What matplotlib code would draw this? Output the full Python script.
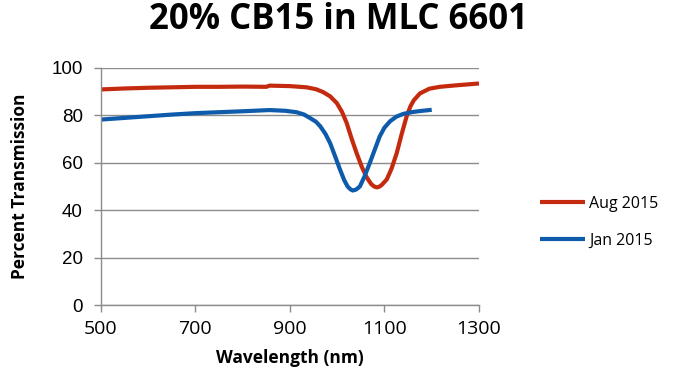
import matplotlib.pyplot as plt

# Transmission spectra
aug_wl = [500, 550, 600, 650, 700, 750, 800, 850, 857, 900, 935, 955, 970, 985, 999, 1010,
          1020, 1030, 1041, 1052, 1062, 1072, 1078, 1084, 1090, 1095, 1105, 1115, 1126, 1137,
          1147, 1155, 1162, 1175, 1195, 1217, 1250, 1275, 1300]
aug_t = [90.9, 91.3, 91.6, 91.8, 92.0, 92.0, 92.1, 92.0, 92.5, 92.3, 91.8, 91.0, 89.8, 88.0, 85.2, 81.5,
         76.8, 70.5, 64.1, 58.3, 54.0, 51.0, 50.0, 49.6, 50.0, 50.8, 53.0, 57.5, 64.1, 72.5,
         79.6, 83.8, 86.3, 89.2, 91.2, 92.0, 92.6, 93.0, 93.4]

jan_wl = [500, 550, 600, 650, 700, 750, 800, 857, 890, 914, 930, 942, 955, 964, 975, 985,
          996, 1006, 1015, 1022, 1028, 1033, 1040, 1048, 1058, 1069, 1080, 1090, 1100, 1112,
          1125, 1140, 1160, 1180, 1200]
jan_t = [78.2, 78.9, 79.6, 80.3, 80.9, 81.3, 81.7, 82.2, 81.9, 81.3, 80.3, 78.9, 77.3, 75.4, 72.2, 68.3,
         62.5, 57.1, 52.6, 50.0, 48.8, 48.3, 48.7, 50.0, 54.3, 59.9, 65.8, 71.1, 74.8, 77.5,
         79.4, 80.6, 81.4, 81.9, 82.3]

x_ticks = [500, 700, 900, 1100, 1300]
y_ticks = [0, 20, 40, 60, 80, 100]

plt.rcParams['font.family'] = ['Open Sans', 'DejaVu Sans']

fig = plt.figure(figsize=(6.77, 3.79), dpi=100)
ax = fig.add_axes([0.149, 0.195, 0.5585, 0.626])

ax.plot(aug_wl, aug_t, color='#C42A0E', lw=3, label='Aug 2015', solid_capstyle='butt')
ax.plot(jan_wl, jan_t, color='#0D5BAA', lw=3, label='Jan 2015', solid_capstyle='butt')

ax.set_xlim(500, 1300)
ax.set_ylim(0, 100)
ax.set_xticks(x_ticks)
ax.set_yticks(y_ticks)
ax.tick_params(color='#8c8c8c', length=5, width=1)
ax.tick_params(axis='x', labelsize=14, pad=6)
ax.tick_params(axis='y', labelsize=13.5, pad=8)
for lab in ax.get_yticklabels():
    lab.set_family(['Liberation Sans', 'DejaVu Sans'])
ax.grid(axis='y', color='#8c8c8c', lw=1)
ax.set_axisbelow(True)
for s in ['top', 'right']:
    ax.spines[s].set_visible(False)
for s in ['left', 'bottom']:
    ax.spines[s].set_color('#8c8c8c')
    ax.spines[s].set_linewidth(1)

ax.set_xlabel('Wavelength (nm)', fontsize=12.5, fontweight='bold')
ax.xaxis.set_label_coords(0.5, -0.186)
ax.set_ylabel('Percent Transmission', fontsize=12.5, fontweight='bold')
ax.yaxis.set_label_coords(-0.19, 0.5)
fig.suptitle('20% CB15 in MLC 6601', fontsize=25, fontweight='bold', x=0.5, y=0.995)

ax.legend(loc='upper left', bbox_to_anchor=(1.161, 0.46), frameon=False, fontsize=11.5,
          borderaxespad=0, borderpad=0, handlelength=2.8, labelspacing=1.3, handletextpad=0.3)

fig.savefig('out.png', dpi=100)
